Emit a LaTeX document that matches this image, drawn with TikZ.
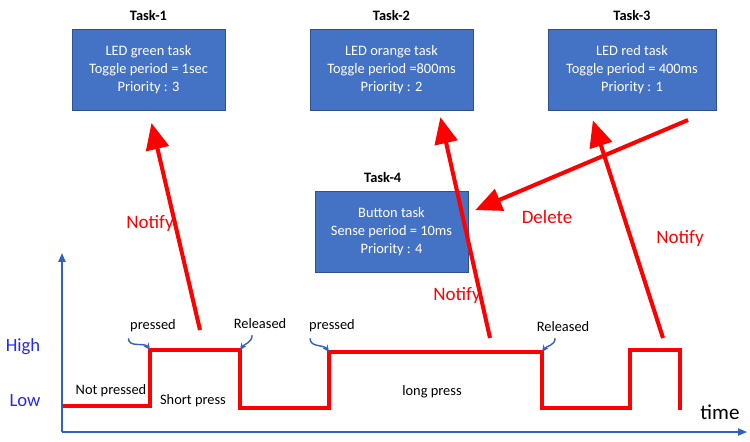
\documentclass[tikz,border=0pt]{standalone}
\usepackage{fontspec}
\setmainfont{Carlito}
\usetikzlibrary{arrows.meta,positioning}
\definecolor{taskblue}{RGB}{68,114,196}
\definecolor{taskedge}{RGB}{47,82,143}
\definecolor{axisblue}{RGB}{52,96,190}
\definecolor{levelblue}{RGB}{40,40,235}
\definecolor{sigred}{RGB}{255,0,0}
\tikzset{
  taskbox/.style={draw=taskedge,fill=taskblue,text=white,align=center,
    font=\fontsize{8.2}{10.4}\selectfont,minimum height=1.62cm,inner sep=2pt},
  tasktitle/.style={font=\fontsize{8.2}{9}\selectfont\bfseries},
  notify/.style={sigred,line width=2.3pt,-{Triangle[length=15pt,width=13pt]}},
  redlbl/.style={text=sigred,font=\fontsize{10.8}{12}\selectfont},
  evlbl/.style={font=\fontsize{8.2}{9}\selectfont},
  level/.style={text=levelblue,font=\fontsize{10.6}{12}\selectfont},
  hint/.style={axisblue,line width=0.8pt,-{Stealth[length=4pt,width=3.5pt]}},
}
\begin{document}
\begin{tikzpicture}[x=0.02cm,y=-0.02cm]
    \useasboundingbox (0,0) rectangle (750,441);
    % the four tasks
    \node[taskbox,minimum width=3.06cm] (t1) at (148.5,69.5) {LED green task\\Toggle period = 1sec\\Priority : 3};
    \node[taskbox,minimum width=3.26cm] (t2) at (391.5,69.5) {LED orange task\\Toggle period =800ms\\Priority : 2};
    \node[taskbox,minimum width=3.36cm] (t3) at (632,69.5) {LED red task\\Toggle period = 400ms\\Priority : 1};
    \node[taskbox,minimum width=3.06cm] (t4) at (391.5,231.5) {Button task\\Sense period = 10ms\\Priority : 4};
    \foreach \n/\t in {t1/Task-1,t2/Task-2,t3/Task-3}
        \node[tasktitle,above=1pt of \n] (\n-ttl) {\t};
    \node[tasktitle,above=1pt of t4,xshift=-5pt] (t4-ttl) {Task-4};
    % axes
    \coordinate (origin) at (62,432);
    \coordinate (ytop) at (62,253);
    \coordinate (xend) at (747,432);
    \draw[axisblue,line width=0.9pt,-{Triangle[length=5pt,width=4pt]}] (origin) -- (ytop);
    \draw[axisblue,line width=0.9pt,-{Triangle[length=5pt,width=4pt]}] (origin) -- (xend);
    \node[level] (high) at (23,347) {High};
    \node[level] (low) at (25,401) {Low};
    \node[font=\fontsize{12}{14}\selectfont] (time) at (720,412) {time};
    % button signal
    \coordinate (s0) at (63,406);
    \coordinate (s1) at (150,406);
    \coordinate (s2) at (150,350);
    \coordinate (s3) at (240,350);
    \coordinate (s4) at (240,408);
    \coordinate (s5) at (329,408);
    \coordinate (s6) at (329,352);
    \coordinate (s7) at (542,352);
    \coordinate (s8) at (542,408);
    \coordinate (s9) at (630,408);
    \coordinate (s10) at (630,350);
    \coordinate (s11) at (680,350);
    \coordinate (s12) at (680,410);
    \draw[sigred,line width=2.3pt] (s0) \foreach \i in {1,...,12}{ -- (s\i)};
    % events
    \node[evlbl] (pr1) at (153,326) {pressed};
    \node[evlbl] (rel1) at (260,324) {Released};
    \node[evlbl] (pr2) at (332,326) {pressed};
    \node[evlbl] (rel2) at (563,327) {Released};
    \node[evlbl] (np) at (111,391) {Not pressed};
    \node[evlbl] (sp) at (193,401) {Short press};
    \node[evlbl] (lp) at (432,392) {long press};
    \draw[hint] ([xshift=2.5pt]pr1.south west) to[out=-90,in=125] (s2);
    \draw[hint] ([xshift=-4.5pt]rel1.south) to[out=-90,in=55] (s3);
    \draw[hint] ([xshift=4pt]pr2.south west) to[out=-90,in=125] (s6);
    \draw[hint] ([xshift=-4.5pt]rel2.south) to[out=-90,in=55] (s7);
    % notifications
    \coordinate (n1from) at (200,330);
    \coordinate (n2from) at (490,338);
    \coordinate (n3from) at (663,338);
    \coordinate (dfrom) at (688,120);
    \draw[notify,shorten >=0.26cm] (n1from) -- (t1.south);
    \draw[notify,shorten >=0.14cm] (n2from) -- ([xshift=-0.69cm]t2.south east);
    \draw[notify,shorten >=0.21cm] (n3from) -- ([xshift=0.84cm]t3.south west);
    \draw[notify,shorten >=0.15cm] (dfrom) -- ([yshift=0.37cm]t4.east);
    \node[redlbl] (n1lbl) at (150,223) {Notify};
    \node[redlbl] (n2lbl) at (457,295) {Notify};
    \node[redlbl] (n3lbl) at (680,238) {Notify};
    \node[redlbl] (dlbl) at (547,217) {Delete};
\end{tikzpicture}
\end{document}
